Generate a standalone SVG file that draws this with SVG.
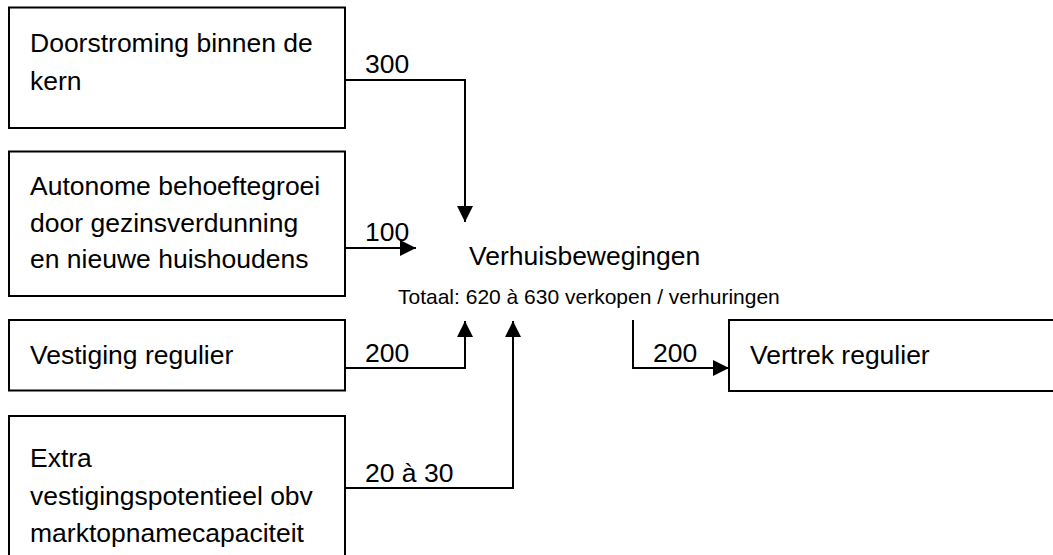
<svg xmlns="http://www.w3.org/2000/svg" width="1053" height="555" viewBox="0 0 1053 555">
  <style>
    .box { fill: #fff; stroke: #000; stroke-width: 2; }
    .txt { font-family: "Liberation Sans", Arial, sans-serif; font-size: 26.5px; fill: #000; }
    .small { font-family: "Liberation Sans", Arial, sans-serif; font-size: 21px; fill: #000; }
    .flow { fill: none; stroke: #000; stroke-width: 2; marker-end: url(#arrow); }
  </style>
  <defs>
    <marker id="arrow" markerUnits="userSpaceOnUse" markerWidth="17" markerHeight="17" viewBox="0 0 17 17" refX="16" refY="8.5" orient="auto">
      <path d="M0,0.5 L16,8.5 L0,16.5 Z" fill="#000"/>
    </marker>
  </defs>
  <rect width="1053" height="555" fill="#fff"/>

  <!-- source boxes -->
  <g id="doorstroming">
    <rect class="box" x="9" y="7.5" width="336" height="120.5"/>
    <text class="txt" x="30" y="52">Doorstroming binnen de</text>
    <text class="txt" x="30" y="90">kern</text>
  </g>
  <g id="autonome-groei">
    <rect class="box" x="9" y="151.5" width="336" height="144.5"/>
    <text class="txt" x="30" y="195">Autonome behoeftegroei</text>
    <text class="txt" x="30" y="231.5">door gezinsverdunning</text>
    <text class="txt" x="30" y="268">en nieuwe huishoudens</text>
  </g>
  <g id="vestiging-regulier">
    <rect class="box" x="9" y="320" width="336" height="70.5"/>
    <text class="txt" x="30" y="364">Vestiging regulier</text>
  </g>
  <g id="extra-vestiging">
    <rect class="box" x="9" y="416" width="336" height="150"/>
    <text class="txt" x="30" y="467">Extra</text>
    <text class="txt" x="30" y="504.5">vestigingspotentieel obv</text>
    <text class="txt" x="30" y="542">marktopnamecapaciteit</text>
  </g>

  <!-- central total -->
  <g id="verhuisbewegingen">
    <text class="txt" x="469" y="265">Verhuisbewegingen</text>
    <text class="small" x="398" y="304">Totaal: 620 à 630 verkopen / verhuringen</text>
  </g>

  <!-- outflow box -->
  <g id="vertrek-regulier">
    <rect class="box" x="729" y="320" width="340" height="71"/>
    <text class="txt" x="750" y="364">Vertrek regulier</text>
  </g>

  <!-- flows with their counts -->
  <g id="connectors">
    <polyline class="flow" points="345,80 465,80 465,222"/>
    <text class="txt" x="365" y="73">300</text>

    <polyline class="flow" points="345,248 416,248"/>
    <text class="txt" x="365" y="241">100</text>

    <polyline class="flow" points="345,368 465,368 465,321"/>
    <text class="txt" x="365" y="362">200</text>

    <polyline class="flow" points="345,488 513,488 513,321"/>
    <text class="txt" x="365" y="482">20 à 30</text>

    <polyline class="flow" points="633,320 633,368 729,368"/>
    <text class="txt" x="653" y="362">200</text>
  </g>
</svg>
